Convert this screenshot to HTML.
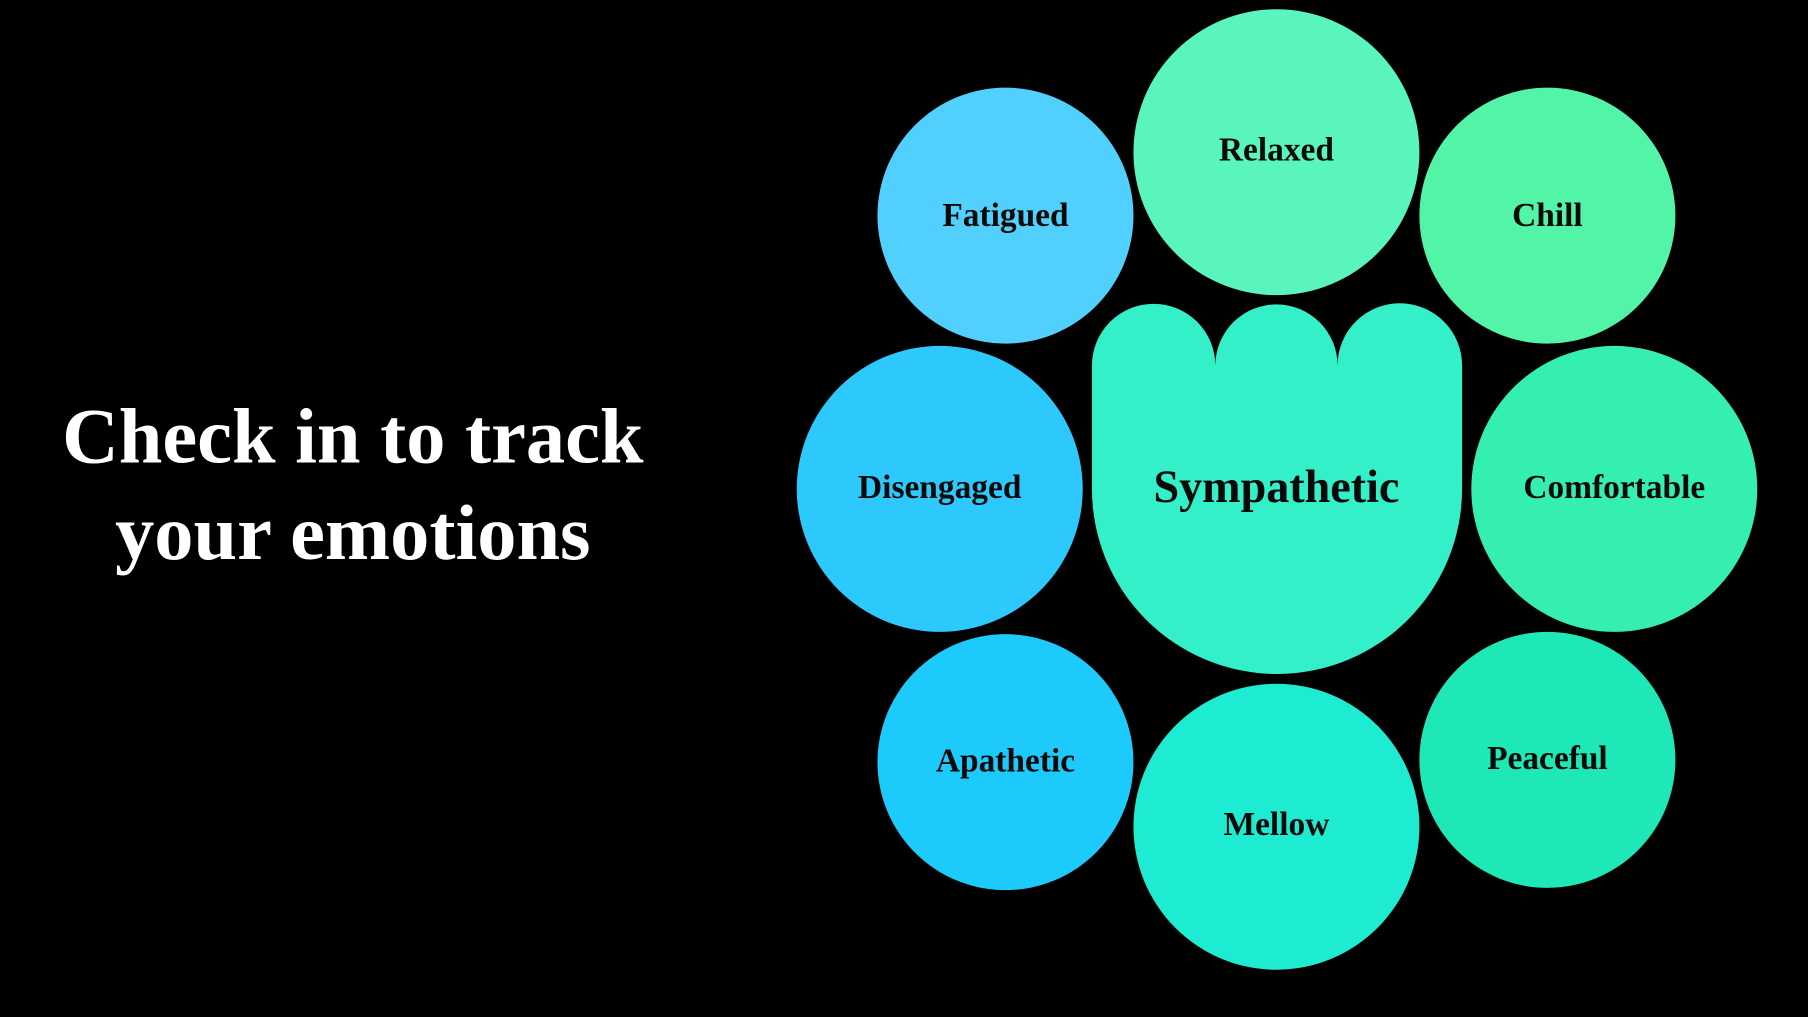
<!DOCTYPE html>
<html><head><meta charset="utf-8"><style>
html,body{margin:0;padding:0;background:#000;width:1808px;height:1017px;overflow:hidden}
svg{display:block}
text{font-family:"Liberation Serif","DejaVu Serif",serif;font-weight:bold;text-anchor:middle;dominant-baseline:central}
</style></head><body>
<svg width="1808" height="1017" viewBox="0 0 1568 882" xmlns="http://www.w3.org/2000/svg">
<rect width="1568" height="882" fill="#000"/>
<text x="306" y="378" fill="#fff" font-size="68">Check in to track</text>
<text x="306" y="462" fill="#fff" font-size="68">your emotions</text>

<circle cx="872" cy="187" r="111" fill="#52d0fd"/>
<circle cx="1107" cy="132" r="124" fill="#5af5bd"/>
<circle cx="1342" cy="187" r="111" fill="#52f5a8"/>
<circle cx="815" cy="424" r="124" fill="#2ec9fc"/>
<circle cx="1400" cy="424" r="124" fill="#35eeb2"/>
<circle cx="872" cy="661" r="111" fill="#1ccbfc"/>
<circle cx="1107" cy="717" r="124" fill="#1debd2"/>
<circle cx="1342" cy="659" r="111" fill="#1de8b6"/>
<path d="M947 424 L947 317 A53 53 0 0 1 1054 317 A53 53 0 0 1 1160 317 A53 53 0 0 1 1268 317 L1268 424 A160.5 160.5 0 0 1 947 424 Z" fill="#34f0c8"/>

<g fill="#0a0a0a" font-size="29">
<text x="872" y="187">Fatigued</text>
<text x="1107" y="130">Relaxed</text>
<text x="1342" y="187">Chill</text>
<text x="815" y="423">Disengaged</text>
<text x="1400" y="423">Comfortable</text>
<text x="872" y="660">Apathetic</text>
<text x="1107" y="715">Mellow</text>
<text x="1342" y="658">Peaceful</text>
<text x="1107" y="422" font-size="40">Sympathetic</text>
</g>
</svg>
</body></html>
